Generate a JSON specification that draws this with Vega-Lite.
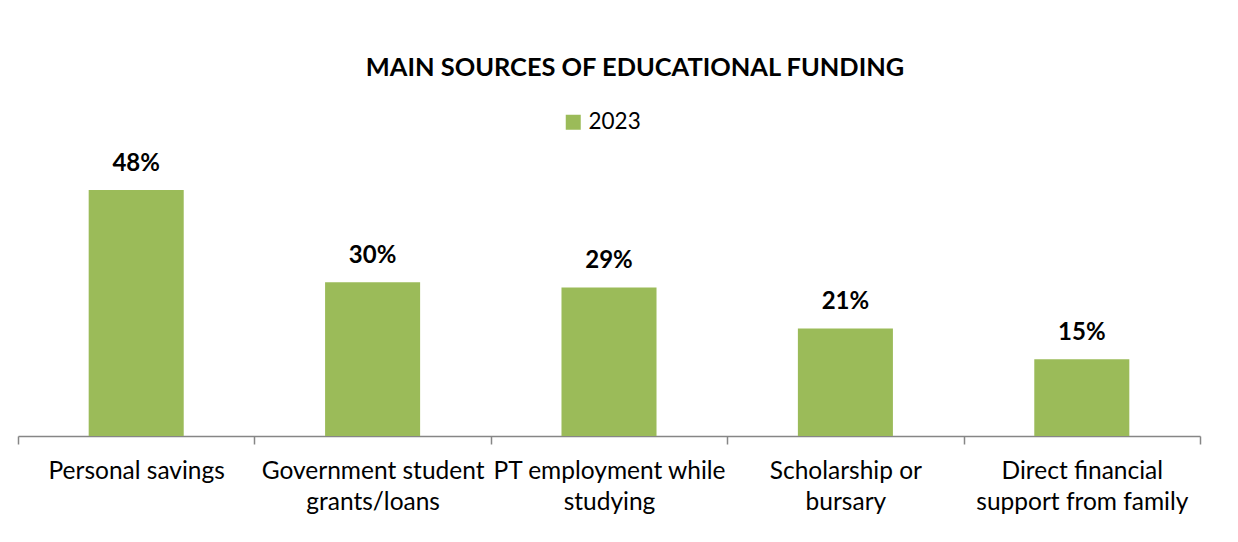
{
  "$schema": "https://vega.github.io/schema/vega-lite/v6.json",
  "width": 1182,
  "height": 287,
  "autosize": {"type": "none"},
  "padding": {"left": 18, "top": 149, "right": 38, "bottom": 106},
  "background": "white",
  "config": {"view": {"stroke": null}, "font": "Lato"},
  "title": {
    "text": "MAIN SOURCES OF EDUCATIONAL FUNDING",
    "font": "Lato",
    "fontSize": 25.4,
    "fontWeight": "bold",
    "color": "#000000",
    "anchor": "middle",
    "dx": 26,
    "offset": 30
  },
  "data": {
    "values": [
      {"source": "Personal savings", "share": 0.48, "year": "2023"},
      {"source": "Government student grants/loans", "share": 0.30, "year": "2023"},
      {"source": "PT employment while studying", "share": 0.29, "year": "2023"},
      {"source": "Scholarship or bursary", "share": 0.21, "year": "2023"},
      {"source": "Direct financial support from family", "share": 0.15, "year": "2023"}
    ]
  },
  "encoding": {
    "x": {
      "field": "source",
      "type": "nominal",
      "sort": null,
      "scale": {"paddingInner": 0, "paddingOuter": 0},
      "axis": {
        "title": null,
        "tickBand": "extent",
        "tickSize": 8,
        "tickColor": "#868686",
        "domainColor": "#868686",
        "domainWidth": 1.5,
        "tickWidth": 1.5,
        "labelAngle": 0,
        "labelFontSize": 24.5,
        "labelFont": "Lato",
        "labelColor": "#000000",
        "labelPadding": 15,
        "labelLineHeight": 31,
        "labelLimit": 0,
        "labelOverlap": false,
        "labelExpr": "datum.value == 'Government student grants/loans' ? ['Government student', 'grants/loans'] : datum.value == 'PT employment while studying' ? ['PT employment while', 'studying'] : datum.value == 'Scholarship or bursary' ? ['Scholarship or', 'bursary'] : datum.value == 'Direct financial support from family' ? ['Direct financial', 'support from family'] : datum.value"
      }
    },
    "y": {
      "field": "share",
      "type": "quantitative",
      "scale": {"domain": [0, 0.56], "nice": false},
      "axis": null
    }
  },
  "layer": [
    {
      "mark": {"type": "bar", "width": {"band": 0.402}},
      "encoding": {
        "color": {
          "field": "year",
          "type": "nominal",
          "scale": {"range": ["#9BBB59"]},
          "legend": {
            "title": null,
            "orient": "none",
            "legendX": 544,
            "legendY": -38,
            "symbolType": "square",
            "symbolSize": 225,
            "symbolStrokeWidth": 0,
            "labelFontSize": 22.5,
            "labelFont": "Lato",
            "labelColor": "#000000",
            "labelOffset": 4
          }
        }
      }
    },
    {
      "mark": {"type": "text", "dy": -19, "baseline": "alphabetic", "fontSize": 24, "fontWeight": "bold", "font": "Lato", "color": "#000000"},
      "encoding": {
        "text": {"field": "share", "type": "quantitative", "format": ".0%"}
      }
    }
  ]
}
